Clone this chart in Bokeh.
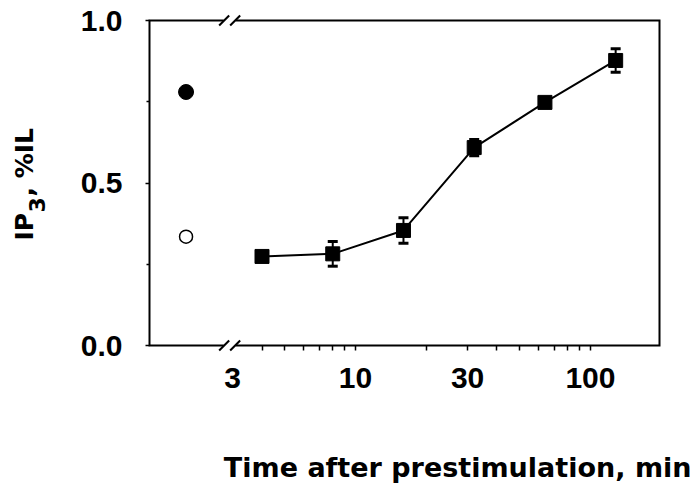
import math
from bokeh.plotting import figure
from bokeh.models import (ColumnDataSource, FixedTicker, Whisker, TeeHead,
                          Range1d, PrintfTickFormatter)
from bokeh.core.properties import value
from bokeh.embed import file_html
from bokeh.resources import INLINE

# ---------------- data ----------------
control_time = [1.9]
control_stimulated = [0.78]      # filled circle
control_unstimulated = [0.335]   # open circle
time_min = [4, 8, 16, 32, 64, 128]
ip3 = [0.274, 0.282, 0.354, 0.609, 0.748, 0.877]
ip3_err = [0.0, 0.038, 0.039, 0.025, 0.008, 0.036]
x_ticks = [3, 10, 30, 100]
x_tick_labels = ["3", "10", "30", "100"]
x_minor = [4, 5, 6, 7, 8, 9, 10, 20, 30, 40, 50, 60, 70, 80, 90, 100]
y_ticks = [0.0, 0.5, 1.0]
y_tick_labels = ["0.0", "0.5", "1.0"]
y_minor = [0.25, 0.75]
axis_break_at = 3
x_title = "Time after prestimulation, min"
y_title = ["IP", "3", ", %IL"]   # "3" is a subscript

# ---------------- layout ----------------
W, H = 694, 489
L, R, T, B = 149, 659, 20, 345          # box in canvas pixels
XMIN, XMAX = 1.328, 196.7               # x values at the box edges
YMIN, YMAX = 0.0, 1.0

def xd(px):
    return 10 ** (math.log10(XMIN) + (px - L) / (R - L) * math.log10(XMAX / XMIN))

def xp(x):
    return L + (math.log10(x) - math.log10(XMIN)) / math.log10(XMAX / XMIN) * (R - L)

def yd(py):
    return YMIN + (B - py) / (B - T) * (YMAX - YMIN)

# the frame covers the whole canvas; axes are pinned to the box edges
p = figure(width=W, height=H, x_axis_type="log",
           x_range=Range1d(xd(0), xd(W)), y_range=Range1d(yd(H), yd(0)),
           output_backend="svg", toolbar_location=None, title_location=None,
           min_border=0)
p.background_fill_color = "white"
p.border_fill_color = "white"
p.outline_line_color = None
p.grid.visible = False

p.xaxis.fixed_location = YMIN
p.yaxis.fixed_location = XMIN

p.xaxis.ticker = FixedTicker(ticks=x_ticks, minor_ticks=x_minor)
p.xaxis.formatter = PrintfTickFormatter(format="%d")
p.xaxis.major_label_overrides = {t: s for t, s in zip(x_ticks, x_tick_labels)}
p.xaxis.major_tick_line_color = None
p.xaxis.minor_tick_out = 5
p.xaxis.minor_tick_in = 0
p.xaxis.minor_tick_line_width = 1.5
p.xaxis.major_label_standoff = 16

p.yaxis.ticker = FixedTicker(ticks=y_ticks, minor_ticks=y_minor)
p.yaxis.formatter = PrintfTickFormatter(format="%.1f")
p.yaxis.major_label_overrides = {t: s for t, s in zip(y_ticks, y_tick_labels)}
p.yaxis.major_tick_out = 4
p.yaxis.major_tick_in = 0
p.yaxis.minor_tick_out = 3
p.yaxis.minor_tick_in = 0
p.yaxis.major_tick_line_width = 1.5
p.yaxis.minor_tick_line_width = 1.5
p.yaxis.major_label_standoff = 23

for ax in (p.xaxis, p.yaxis):
    ax.axis_line_color = None
    ax.major_label_text_font = "Liberation Sans"
    ax.major_label_text_font_style = "bold"
    ax.major_label_text_font_size = "30px"
    ax.major_label_text_color = "black"

# ---------------- box with axis break ----------------
cx = xp(axis_break_at) - 3
p.multi_line(xs=[[xd(cx - 6), XMIN, XMIN, xd(cx - 6)],
                 [xd(cx + 6), XMAX, XMAX, xd(cx + 6)]],
             ys=[[YMAX, YMAX, YMIN, YMIN], [YMAX, YMAX, YMIN, YMIN]],
             line_color="black", line_width=2, line_join="miter")
sl = dict(xs=[], ys=[], xe=[], ye=[])
for yb in (B, T):
    for off in (-5.5, 5.5):
        sl["xs"].append(xd(cx + off - 5)); sl["ys"].append(yd(yb + 5))
        sl["xe"].append(xd(cx + off + 5)); sl["ye"].append(yd(yb - 5))
p.segment(x0="xs", y0="ys", x1="xe", y1="ye", source=ColumnDataSource(sl),
          line_color="black", line_width=2)

# ---------------- data marks ----------------
src = ColumnDataSource(dict(t=time_min, y=ip3))
p.line("t", "y", source=src, line_color="black", line_width=2)
p.scatter("t", "y", source=src, marker="square", size=14,
          fill_color="black", line_color="black")

err_idx = [i for i, e in enumerate(ip3_err) if e > 0]
esrc = ColumnDataSource(dict(t=[time_min[i] for i in err_idx],
                             upper=[ip3[i] + ip3_err[i] for i in err_idx],
                             lower=[ip3[i] - ip3_err[i] for i in err_idx]))
p.add_layout(Whisker(base="t", upper="upper", lower="lower", source=esrc,
                     line_width=2, line_color="black",
                     upper_head=TeeHead(size=10, line_width=3, line_color="black"),
                     lower_head=TeeHead(size=10, line_width=3, line_color="black")))

p.scatter(control_time, control_stimulated, marker="circle", size=15,
          fill_color="black", line_color="black")
p.scatter(control_time, control_unstimulated, marker="circle", size=13,
          fill_color="white", line_color="black", line_width=1.5)

# ---------------- titles ----------------
tfont = dict(text_font=value("DejaVu Sans"), text_font_style="bold",
             text_color="black", text_baseline="alphabetic")
p.text(x=[xd(691)], y=[yd(467)], text=[x_title], text_align="right",
       text_font_size="27px", **tfont)

ang = math.pi / 2
p.text(x=[xd(24)], y=[yd(240)], text=[y_title[0]], angle=ang, text_align="left",
       text_font_size="25px", **tfont)
p.text(x=[xd(36)], y=[yd(212)], text=[y_title[1]], angle=ang, text_align="left",
       text_font_size="22px", **tfont)
p.text(x=[xd(24)], y=[yd(196)], text=[y_title[2]], angle=ang, text_align="left",
       text_font_size="25px", **tfont)

open("out.html", "w").write(file_html(p, INLINE))
